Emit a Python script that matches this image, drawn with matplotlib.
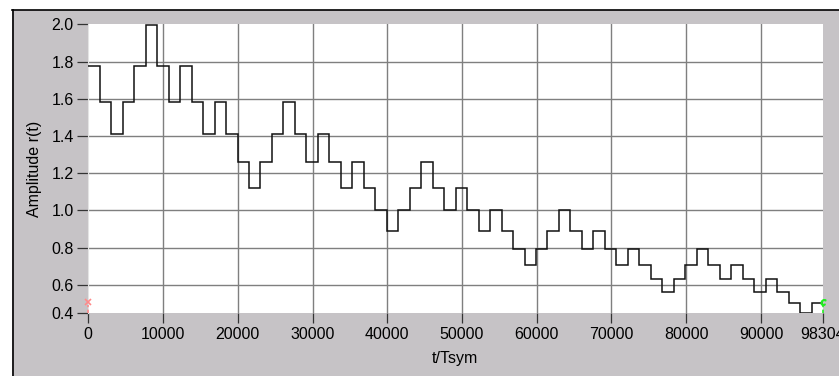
import numpy as np
import matplotlib
matplotlib.use("Agg")
import matplotlib.pyplot as plt
from matplotlib.lines import Line2D
from matplotlib.patches import Rectangle

# Step levels of r(t), one per block
levels = [1.778, 1.585, 1.413, 1.585, 1.778, 1.995, 1.778, 1.585, 1.778, 1.585,
          1.413, 1.585, 1.413, 1.259, 1.122, 1.259, 1.413, 1.585, 1.413, 1.259,
          1.413, 1.259, 1.122, 1.259, 1.122, 1.000, 0.891, 1.000, 1.122, 1.259,
          1.122, 1.000, 1.122, 1.000, 0.891, 1.000, 0.891, 0.794, 0.708, 0.794,
          0.891, 1.000, 0.891, 0.794, 0.891, 0.794, 0.708, 0.794, 0.708, 0.631,
          0.562, 0.631, 0.708, 0.794, 0.708, 0.631, 0.708, 0.631, 0.562, 0.631,
          0.562, 0.501, 0.447, 0.501]
block_len = 1536          # symbols per step
y_min, y_max = 0.447, 2.0
x_ticks = [0, 10000, 20000, 30000, 40000, 50000, 60000, 70000, 80000, 90000, 98304]
y_ticks = [y_min, 0.6, 0.8, 1.0, 1.2, 1.4, 1.6, 1.8, 2.0]

edges = np.arange(len(levels) + 1) * block_len

W, H = 839, 376
plt.rcParams['font.family'] = ['Liberation Sans', 'DejaVu Sans']
plt.rcParams['font.size'] = 11.5

fig = plt.figure(figsize=(W / 100, H / 100), dpi=100)
fig.patch.set_facecolor('white')

# LabVIEW style grey panel with black top/left border
def fx(px):
    return px / W

def fy(py):
    return 1 - py / H

fig.add_artist(Rectangle((fx(12), 0), 1 - fx(12), fy(10), transform=fig.transFigure,
                         facecolor='#c6c3c6', edgecolor='none', zorder=-10))
fig.add_artist(Line2D([fx(12.5), fx(12.5)], [0, fy(10)], transform=fig.transFigure,
                      color='black', lw=1.2))
fig.add_artist(Line2D([fx(12), 1], [fy(10), fy(10)], transform=fig.transFigure,
                      color='black', lw=1.2))

ax = fig.add_axes([fx(88.3), fy(313.4), fx(823) - fx(88.3), fy(24.4) - fy(313.4)])
ax.set_facecolor('white')

ax.stairs(levels, edges, baseline=None, color='#111111', lw=1.1, zorder=3)

ax.set_xlim(0, edges[-1])
ax.set_ylim(y_min, y_max)
ax.set_xticks(x_ticks)
ax.set_xticklabels([str(v) for v in x_ticks])
ax.set_yticks(y_ticks)
ax.set_yticklabels(['%.1f' % v for v in y_ticks])

ax.grid(True, color='#7f7f7f', lw=1.0)
for gl in [ax.get_xgridlines()[0], ax.get_xgridlines()[-1],
           ax.get_ygridlines()[0], ax.get_ygridlines()[-1]]:
    gl.set_visible(False)

for s in ax.spines.values():
    s.set_visible(False)
ax.spines['left'].set_visible(True)
ax.spines['left'].set_color('#e4e4e4')

ax.tick_params(axis='y', length=8, width=0.9, pad=2.5, color='#333333')
ax.tick_params(axis='x', length=7, width=0.9, pad=2.5, color='#333333')

# cursors at both ends
ax.plot([0, 0], [y_min, 0.49], color='#ff8a8a', lw=1.2, ls=(0, (2, 1.5)), clip_on=False, zorder=4)
ax.plot([0], [0.51], marker='x', ms=4, color='#ff8a8a', mew=1.2, clip_on=False, zorder=4)
ax.plot([edges[-1]] * 2, [y_min, 0.49], color='#22ee22', lw=1.2, ls=(0, (2, 1.5)), clip_on=False, zorder=4)
ax.plot([edges[-1]], [0.51], marker='$c$', ms=4, color='#22ee22', clip_on=False, zorder=4)

fig.text(fx(35), fy(169), 'Amplitude r(t)', rotation=90, ha='center', va='center')
fig.text(fx(455), fy(358), 't/Tsym', ha='center', va='center')

fig.savefig('out.png', dpi=100)
